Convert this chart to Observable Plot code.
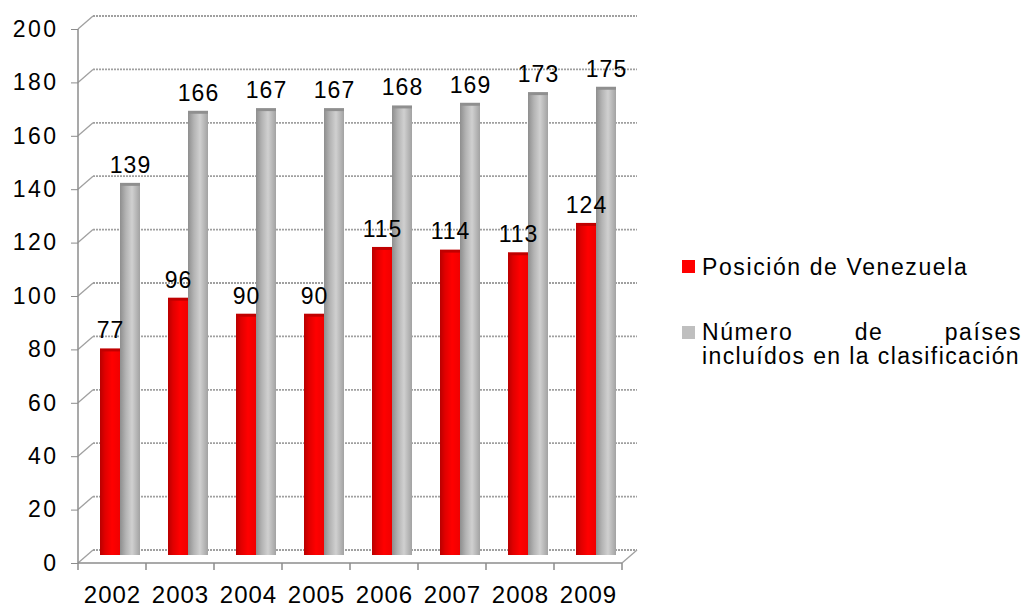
<!DOCTYPE html>
<html>
<head>
<meta charset="utf-8">
<script src="https://cdn.jsdelivr.net/npm/d3@7"></script>
<script src="https://cdn.jsdelivr.net/npm/@observablehq/plot@0.6"></script>
<style>
  html, body { margin: 0; padding: 0; background: #fff; }
  #wrap { position: relative; width: 1026px; height: 609px; font-family: "Liberation Sans", Arial, sans-serif; }
  #wrap svg text { letter-spacing: 1px; }
  #wrap svg g[aria-label="y-axis tick label"] text { letter-spacing: 2.5px; }
  .legend { position: absolute; left: 682px; top: 252px; width: 340px; font-size: 23px; letter-spacing: 1.6px; color: #000; }
  .item { position: relative; padding-left: 20px; white-space: nowrap; }
  .sw { position: absolute; left: 0; width: 13px; height: 13px; }
  .just { text-align: justify; text-align-last: justify; white-space: normal; }
  .l2 { letter-spacing: 1.4px; }
</style>
</head>
<body>
<div id="wrap"></div>
<script>
const years = ["2002", "2003", "2004", "2005", "2006", "2007", "2008", "2009"];
const posicion = [77, 96, 90, 90, 115, 114, 113, 124];
const paises = [139, 166, 167, 167, 168, 169, 173, 175];
const yTicks = [0, 20, 40, 60, 80, 100, 120, 140, 160, 180, 200];
const seriesNames = ["Posición de Venezuela", "Número de países", "incluídos en la clasificación"];
const seriesColors = ["#ff0000", "#bfbfbf"];

const rows = years.map((year, i) => ({year, posicion: posicion[i], paises: paises[i]}));

const DX = 15, DY = -13;   // depth offset of the back wall
const BAR_DY = -8;         // bars sit half way in depth

function wall(index, scales, values, dimensions) {
  let sc = scales;
  for (const a of arguments) if (a && typeof a.x === "function" && typeof a.y === "function") { sc = a; break; }
  const x = sc.x, y = sc.y;
  const bw = x(years[1]) - x(years[0]);
  const left = x(years[0]);
  const right = x(years[years.length - 1]) + bw;
  const g = d3.create("svg:g").attr("fill", "none");
  const grid = "#a0a0a0";
  for (const t of yTicks) {
    g.append("line").attr("x1", left + DX).attr("x2", right + DX)
      .attr("y1", y(t) + DY).attr("y2", y(t) + DY)
      .attr("stroke", grid).attr("stroke-width", 1.8).attr("stroke-dasharray", "2,1");
    g.append("line").attr("x1", left).attr("x2", left + DX)
      .attr("y1", y(t)).attr("y2", y(t) + DY)
      .attr("stroke", grid).attr("stroke-width", 1.3);
  }
  g.append("line").attr("x1", left).attr("x2", left).attr("y1", y(0)).attr("y2", y(200))
    .attr("stroke", "#8c8c8c").attr("stroke-width", 1.5);
  g.append("line").attr("x1", left).attr("x2", right).attr("y1", y(0)).attr("y2", y(0))
    .attr("stroke", "#8c8c8c").attr("stroke-width", 1.5);
  g.append("line").attr("x1", right).attr("x2", right + DX).attr("y1", y(0)).attr("y2", y(0) + DY)
    .attr("stroke", grid).attr("stroke-width", 1.3);
  for (let i = 0; i <= years.length; i++) {
    const xx = left + i * bw;
    g.append("line").attr("x1", xx).attr("x2", xx).attr("y1", y(0)).attr("y2", y(0) + 7)
      .attr("stroke", "#8c8c8c").attr("stroke-width", 1.5);
  }
  return g.node();
}

const chart = Plot.plot({
  width: 1026,
  height: 609,
  marginLeft: 78,
  marginRight: 404,
  marginTop: 29,
  marginBottom: 46,
  style: {fontFamily: "Liberation Sans, Arial, sans-serif", fontSize: "23px", color: "#000", background: "#fff"},
  x: {domain: years, padding: 0, label: null},
  y: {domain: [0, 200], label: null},
  marks: [
    wall,
    Plot.axisY({ticks: yTicks, tickSize: 7, tickPadding: 13, stroke: "#8c8c8c", fill: "#000", label: null, fontSize: 23}),
    Plot.axisX({tickSize: 0, tickPadding: 22, label: null, fontSize: 24, fill: "#000"}),
    Plot.barY(rows, {x: "year", y: "posicion", fill: "url(#gradRed)", dy: BAR_DY, insetLeft: 22, insetRight: 26}),
    Plot.tickY(rows, {x: "year", y: "posicion", stroke: "#c00000", strokeWidth: 3, dy: BAR_DY, insetLeft: 22, insetRight: 26}),
    Plot.barY(rows, {x: "year", y: "paises", fill: "url(#gradGray)", dy: BAR_DY, insetLeft: 42, insetRight: 6}),
    Plot.tickY(rows, {x: "year", y: "paises", stroke: "#8f8f8f", strokeWidth: 3, dy: BAR_DY, insetLeft: 42, insetRight: 6}),
    Plot.text(rows, {x: "year", y: "posicion", text: d => String(d.posicion), dx: -2, dy: BAR_DY - 19, fill: "#000", fontSize: 23}),
    Plot.text(rows, {x: "year", y: "paises", text: d => String(d.paises), dx: 18, dy: BAR_DY - 19, fill: "#000", fontSize: 23})
  ]
});

const defs = d3.select(chart).insert("defs", ":first-child");
const gr = defs.append("linearGradient").attr("id", "gradRed").attr("x1", "0").attr("x2", "1").attr("y1", "0").attr("y2", "0");
gr.append("stop").attr("offset", "0%").attr("stop-color", "#b80000");
gr.append("stop").attr("offset", "25%").attr("stop-color", "#e00000");
gr.append("stop").attr("offset", "60%").attr("stop-color", seriesColors[0]);
gr.append("stop").attr("offset", "100%").attr("stop-color", "#f00000");
const gg = defs.append("linearGradient").attr("id", "gradGray").attr("x1", "0").attr("x2", "1").attr("y1", "0").attr("y2", "0");
gg.append("stop").attr("offset", "0%").attr("stop-color", "#8e8e8e");
gg.append("stop").attr("offset", "30%").attr("stop-color", "#b4b4b4");
gg.append("stop").attr("offset", "60%").attr("stop-color", "#d0d0d0");
gg.append("stop").attr("offset", "100%").attr("stop-color", "#a2a2a2");

const wrap = document.getElementById("wrap");
wrap.appendChild(chart);

const legend = document.createElement("div");
legend.className = "legend";
legend.innerHTML = `
  <div class="item" style="height:30px;line-height:30px"><span class="sw" style="top:8px;background:${seriesColors[0]}"></span>${seriesNames[0]}</div>
  <div class="item" style="margin-top:38px;line-height:24px"><span class="sw" style="top:6px;background:${seriesColors[1]}"></span><div class="just">${seriesNames[1]}</div><div class="l2">${seriesNames[2]}</div></div>
`;
wrap.appendChild(legend);
</script>
</body>
</html>
